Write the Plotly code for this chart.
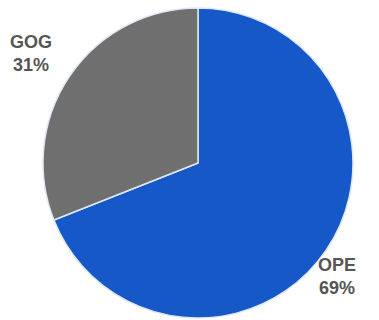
import plotly.graph_objects as go

labels = ["OPE", "GOG"]
values = [69, 31]
colors = ["#1658c8", "#6f6f70"]
label_pos = {"OPE": (337 / 379, 1 - 276 / 320), "GOG": (31 / 379, 1 - 54 / 320)}

fig = go.Figure()
fig.add_trace(go.Pie(
    labels=labels, values=values, sort=False, direction="clockwise", rotation=0,
    marker=dict(colors=colors, line=dict(color="#dfe8f7", width=1.5)),
    textinfo="none", hoverinfo="label+percent", showlegend=False,
    domain=dict(x=[(198 - 155) / 379, (198 + 155) / 379], y=[2 / 320, 312 / 320]),
))

total = sum(values)
for lab, v in zip(labels, values):
    x, y = label_pos[lab]
    fig.add_annotation(
        x=x, y=y, xref="paper", yref="paper", showarrow=False,
        text=f"<b>{lab}</b><br><b>{round(100 * v / total)}%</b>",
        font=dict(family="Liberation Sans, Arial, sans-serif", size=18, color="#555555"),
        align="center", xanchor="center", yanchor="middle",
    )

fig.update_layout(
    width=379, height=320, margin=dict(l=0, r=0, t=0, b=0),
    paper_bgcolor="white", plot_bgcolor="white",
)
fig.write_html("out.html")
